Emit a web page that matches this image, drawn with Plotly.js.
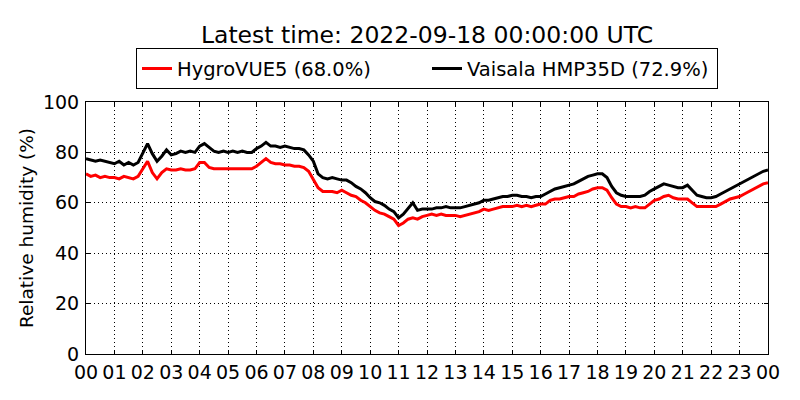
<!DOCTYPE html>
<html>
<head>
<meta charset="utf-8">
<script src="https://cdn.plot.ly/plotly-3.0.1.min.js"></script>
<style>
  html, body { margin: 0; padding: 0; background: #fff; }
  #chart { width: 800px; height: 400px; }
</style>
</head>
<body>
<div id="chart"></div>
<script>
// 10-minute samples from 2022-09-17 00:00 to 2022-09-18 00:00 UTC
const startTime = Date.UTC(2022, 8, 17, 0, 0, 0);
const stepMinutes = 10;

const hygroVue = [
  71.5, 70.5, 71, 70, 70.5, 70,
  70, 69.5, 70.5, 70, 69.5, 70.5,
  73.5, 76.5, 72, 69.5, 72, 73.5,
  73, 73, 73.5, 73, 73, 73.5,
  76, 76, 74, 73.5, 73.5, 73.5,
  73.5, 73.5, 73.5, 73.5, 73.5, 73.5,
  74.5, 76, 77.5, 76, 75.5, 75.5,
  75, 75, 74.5, 74.5, 74, 72.5,
  69.5, 66, 64.5, 64.5, 64.5, 64,
  65, 64, 63, 62.5, 61, 60,
  58.5, 57, 56, 55.5, 54.5, 53.5,
  51, 52, 53.5, 54, 53.5, 54.5,
  55, 55.5, 55, 55.5, 55, 55,
  55, 54.5, 55, 55.5, 56, 56.5,
  57.5, 57, 57.5, 58, 58.5, 58.5,
  58.5, 59, 58.5, 59, 58.5, 59,
  59.5, 59.5, 61, 61.5, 61.5, 62,
  62.5, 62.5, 63.5, 64, 64.5, 65.5,
  66, 66, 65, 62, 59.5, 58.5,
  58.5, 58, 58.5, 58, 58, 59.5,
  61, 61.5, 62.5, 63, 62, 61.5,
  61.5, 61.5, 60, 58.5, 58.5, 58.5,
  58.5, 58.5, 59.5, 60.5, 61.5, 62,
  62.5, 63.5, 64.5, 65.5, 66.5, 67.5,
  68
];

const vaisala = [
  77.5, 77, 76.5, 77, 76.5, 76,
  75.5, 76.5, 75, 76, 75, 76,
  80, 83.5, 79.5, 76.5, 78.5, 81,
  79, 79.5, 80.5, 80, 80.5, 80,
  82.5, 83.5, 82, 80.5, 80, 80.5,
  80, 80.5, 80, 80.5, 80, 80,
  81.5, 82.5, 84, 82.5, 82.5, 82,
  82.5, 82, 81.5, 81.5, 81, 79,
  76.5, 71.5, 70, 69.5, 70, 69.5,
  69, 69, 68, 66.5, 65.5, 64,
  62, 60.5, 60, 59, 57.5, 56.5,
  54, 55.5, 58, 60, 57, 57.5,
  57.5, 57.5, 58, 58, 58.5, 58,
  58, 58, 58.5, 59, 59.5, 60,
  61, 61, 61.5, 62, 62.5, 62.5,
  63, 63, 62.5, 62.5, 62, 62.5,
  62.5, 63.5, 64.5, 65.5, 66, 66.5,
  67, 67.5, 68.5, 69.5, 70.5, 71,
  71.5, 71.5, 70, 66.5, 64, 63,
  62.5, 62.5, 62.5, 62.5, 63, 64.5,
  65.5, 66.5, 67.5, 67, 66.5, 66,
  66, 67, 65, 63, 62.5, 62,
  62, 62.5, 63.5, 64.5, 65.5, 66.5,
  67.5, 68.5, 69.5, 70.5, 71.5, 72.5,
  73
];

const seriesNames = ['HygroVUE5 (68.0%)', 'Vaisala HMP35D (72.9%)'];
const seriesColors = ['#ff0000', '#000000'];
const hourLabels = ['00','01','02','03','04','05','06','07','08','09','10','11',
                    '12','13','14','15','16','17','18','19','20','21','22','23','00'];
const titleText = 'Latest time: 2022-09-18 00:00:00 UTC';

function isoAt(ms) {
    return new Date(ms).toISOString().replace('T', ' ').slice(0, 19);
}

const times = hygroVue.map((v, i) => isoAt(startTime + i * stepMinutes * 60000));
const hourTicks = hourLabels.map((l, i) => isoAt(startTime + i * 3600000));

const traces = [hygroVue, vaisala].map((ys, k) => ({
    x: times,
    y: ys,
    name: seriesNames[k],
    mode: 'lines',
    type: 'scatter',
    line: { color: seriesColors[k], width: 3 },
}));

const axisCommon = {
    showline: true,
    linecolor: '#000',
    linewidth: 1,
    mirror: 'ticks',
    ticks: 'inside',
    ticklen: 4,
    tickcolor: '#000',
    showgrid: true,
    gridcolor: '#000',
    gridwidth: 1,
    griddash: '1px,3px',
    zeroline: false,
    tickfont: { size: 19, color: '#000' },
};

const layout = {
    width: 800,
    height: 400,
    font: { family: 'DejaVu Sans, sans-serif', color: '#000' },
    paper_bgcolor: '#fff',
    plot_bgcolor: '#fff',
    margin: { l: 86, r: 32, t: 102, b: 46 },
    title: {
        text: titleText,
        font: { size: 23.5, color: '#000' },
        xref: 'paper',
        x: 0.5, xanchor: 'center',
        y: 1 - 35 / 400, yanchor: 'middle',
    },
    showlegend: true,
    legend: {
        orientation: 'h',
        x: 0.5, xanchor: 'center',
        y: 1.05, yanchor: 'bottom',
        bordercolor: '#000',
        borderwidth: 1,
        bgcolor: '#fff',
        entrywidth: 245,
        font: { size: 19.5, color: '#000' },
    },
    xaxis: Object.assign({}, axisCommon, {
        type: 'date',
        range: [hourTicks[0], hourTicks[hourTicks.length - 1]],
        tickmode: 'array',
        tickvals: hourTicks,
        ticktext: hourLabels,
        ticklabelstandoff: 1,
    }),
    yaxis: Object.assign({}, axisCommon, {
        range: [0, 100],
        tickmode: 'linear',
        tick0: 0,
        dtick: 20,
        ticklabelstandoff: 2,
        title: { text: 'Relative humidity (%)', font: { size: 18.5, color: '#000' }, standoff: 4 },
    }),
};

Plotly.newPlot('chart', traces, layout, { staticPlot: true });
</script>
</body>
</html>
